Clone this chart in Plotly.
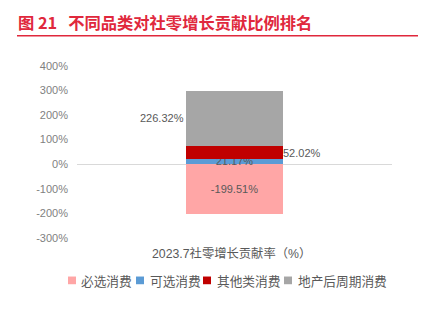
import plotly.graph_objects as go

categories = ["2023.7社零增长贡献率（%）"]
series_names = ["必选消费", "可选消费", "其他类消费", "地产后周期消费"]
series_values = [[-199.51], [21.17], [52.02], [226.32]]
series_colors = ["#FFA6A6", "#5B9BD5", "#C00000", "#A6A6A6"]
label_texts = ["-199.51%", "21.17%", "52.02%", "226.32%"]
tick_vals = [-300, -200, -100, 0, 100, 200, 300, 400]
tick_text = ["-300%", "-200%", "-100%", "0%", "100%", "200%", "300%", "400%"]

W, H = 423, 322
def px(x): return x / W
def py(y): return 1 - y / H

LBL_FONT = dict(color="#595959", size=11, family="Arial, Liberation Sans")

fig = go.Figure()
for name, vals, col, lab in zip(series_names, series_values, series_colors, label_texts):
    inside = name in ("必选消费", "可选消费")
    fig.add_trace(go.Bar(
        x=["c"], y=vals, name=name, marker=dict(color=col, line=dict(width=0)),
        width=0.311,
        text=[lab] if inside else None,
        textposition="inside" if inside else "none",
        insidetextanchor="middle",
        textfont=LBL_FONT,
        constraintext="none",
        cliponaxis=False,
        showlegend=False,
    ))

pos_base = 0
annos = []
for name, vals, lab in zip(series_names, series_values, label_texts):
    v = vals[0]
    if v > 0:
        mid = pos_base + v / 2
        pos_base += v
        if name == "其他类消费":
            annos.append(dict(x="c", y=mid, text=lab, xref="x", yref="y", showarrow=False,
                              xanchor="left", xshift=46, font=LBL_FONT))
        elif name == "地产后周期消费":
            annos.append(dict(x="c", y=mid, text=lab, xref="x", yref="y", showarrow=False,
                              xanchor="right", xshift=-49, font=LBL_FONT))

annos.append(dict(x=px(231), y=py(257), xref="paper", yref="paper", text=categories[0],
                  showarrow=False, xanchor="center", yanchor="middle",
                  font=dict(color="#595959", size=12.3, family="Arial, Noto Sans CJK SC")))
annos.append(dict(x=px(16), y=py(17), xref="paper", yref="paper",
                  text="<b>图 21</b>   <b>不同品类对社零增长贡献比例排名</b>",
                  showarrow=False, xanchor="left", yanchor="middle",
                  font=dict(color="#E0283C", size=16.3, family="Noto Sans CJK SC")))

# manual legend
legend_sq_x = [68, 136, 203, 284]
legend_txt_x = [79, 148, 215, 296]
legend_y = 285
shapes = [dict(type="line", xref="paper", yref="paper", x0=px(17), x1=px(418),
               y0=py(31), y1=py(31), line=dict(color="#E0283C", width=1.5))]
for name, col, sx, tx in zip(series_names, series_colors, legend_sq_x, legend_txt_x):
    shapes.append(dict(type="rect", xref="paper", yref="paper", x0=px(sx), x1=px(sx + 8),
                       y0=py(legend_y + 4), y1=py(legend_y - 4), fillcolor=col, line=dict(width=0)))
    annos.append(dict(x=px(tx), y=py(legend_y), xref="paper", yref="paper", text=name,
                      showarrow=False, xanchor="left", yanchor="middle",
                      font=dict(color="#595959", size=12.7, family="Noto Sans CJK SC")))

fig.update_layout(
    width=W, height=H, margin=dict(l=0, r=0, t=0, b=0),
    paper_bgcolor="white", plot_bgcolor="white",
    barmode="relative",
    showlegend=False,
    xaxis=dict(domain=[px(77), px(392)], range=[-0.5, 0.5], showticklabels=False,
               showgrid=False, zeroline=False, showline=False, fixedrange=True),
    yaxis=dict(domain=[py(241), py(62)], range=[-300, 400], tickvals=tick_vals, ticktext=tick_text,
               showgrid=False, zeroline=True, zerolinecolor="#D9D9D9", zerolinewidth=1,
               showline=False, ticks="", tickfont=dict(color="#7F7F7F", size=11,
               family="Arial, Liberation Sans"), ticklabelstandoff=8),
    annotations=annos,
    shapes=shapes,
    bargap=0,
)
fig.write_html("out.html")
